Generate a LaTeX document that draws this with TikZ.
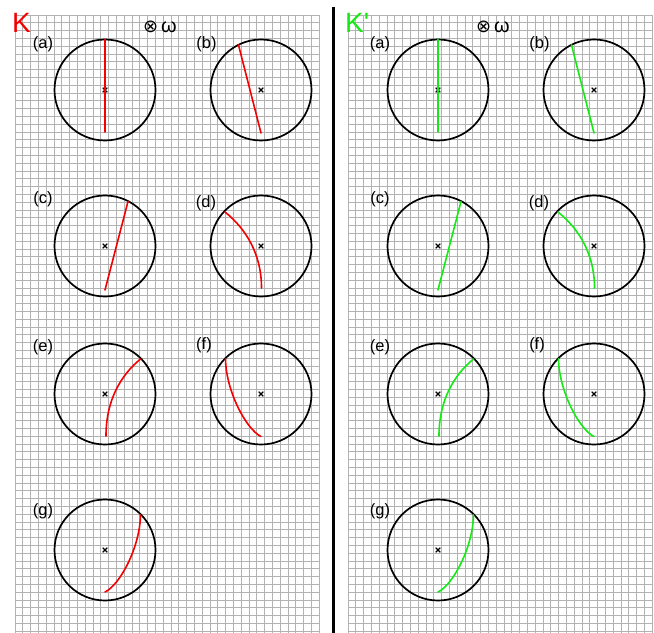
\documentclass[tikz,border=0pt]{standalone}
\usepackage{fontspec}
\setmainfont{Liberation Sans}
\newfontfamily\dejavu{DejaVu Sans}
\definecolor{kred}{RGB}{245,0,0}
\definecolor{kgreen}{RGB}{20,235,20}
\definecolor{gridgray}{RGB}{178,178,178}
\begin{document}
\begin{tikzpicture}[x=1bp,y=-1bp,
  gridline/.style={draw=gridgray, line width=0.7bp},
  ring/.style={draw=black, line width=1.7bp},
  chord/.style={line width=1.6bp, line cap=round},
  centermark/.style={draw=black, line width=1.1bp},
  lbl/.style={font=\fontsize{16.5}{16.5}\selectfont, inner sep=0pt, anchor=base},
  ktitle/.style={font=\fontsize{28}{28}\selectfont, inner sep=0pt, anchor=base west},
  omega/.style={inner sep=0pt, anchor=base west}]
\useasboundingbox (0,0) rectangle (654,633);
\fill[white] (0,0) rectangle (654,633);
\foreach \dx/\col/\lx/\ktext in {0/kred/43/K, 333/kgreen/47/K\textquotesingle} {
 \begin{scope}[shift={(\dx,0)}]
  % grid
  \foreach \i in {0,...,39} \draw[gridline] (15+\i*7.8,15) -- (15+\i*7.8,633);
  \foreach \j in {0,...,79} \draw[gridline] (15,15+\j*7.8) -- (319.2,15+\j*7.8);
  % titles
  \node[ktitle, text=\col] (title\dx) at (12,33) {\ktext};
  \node[omega] (omega\dx) at (143,32.5) {{\dejavu\fontsize{18}{18}\selectfont ⊗}\hspace{3bp}{\fontsize{20}{20}\selectfont ω}};
  % circles and centre marks
  \foreach \n/\x/\y in {a/105/90,b/261/90,c/105/246,d/261/246,e/105/394,f/261/394,g/105/550} {
    \coordinate (c\n\dx) at (\x,\y);
    \draw[ring] (c\n\dx) circle[radius=50.5];
    \draw[centermark] (\x-2.3,\y-2.3) -- (\x+2.3,\y+2.3) (\x-2.3,\y+2.3) -- (\x+2.3,\y-2.3);
  }
  % labels
  \node[lbl] (la\dx) at (\lx,49) {(a)};
  \node[lbl] (lb\dx) at (206.5,49) {(b)};
  \node[lbl] (lc\dx) at (\lx,203) {(c)};
  \node[lbl] (ld\dx) at (206,207) {(d)};
  \node[lbl] (le\dx) at (\lx,351) {(e)};
  \node[lbl] (lf\dx) at (204,349.5) {(f)};
  \node[lbl] (lg\dx) at (\lx,515) {(g)};
  % chords
  \draw[chord,\col,shift={(105,90)}] (0,-50.5) -- (0,42);
  \draw[chord,\col,shift={(261,90)}] (-22.5,-45) -- (0,43);
  \draw[chord,\col,shift={(105,246)}] (23,-44.5) -- (0,44);
  \draw[chord,\col,shift={(261,246)}] (-36,-34) .. controls (-16,-18) and (0.5,7) .. (0.5,42);
  \draw[chord,\col,shift={(105,394)}] (35.5,-35) .. controls (16,-19) and (1,6) .. (1,42);
  \draw[chord,\col,shift={(261,394)}] (-35.5,-35) .. controls (-35,-3) and (-15,35) .. (0,42.5);
  \draw[chord,\col,shift={(105,550)}] (35.5,-35) .. controls (35,-3) and (15,35) .. (0,42);
 \end{scope}
}
\draw[line width=2.6bp] (333.6,7) -- (333.6,633);
\end{tikzpicture}
\end{document}
